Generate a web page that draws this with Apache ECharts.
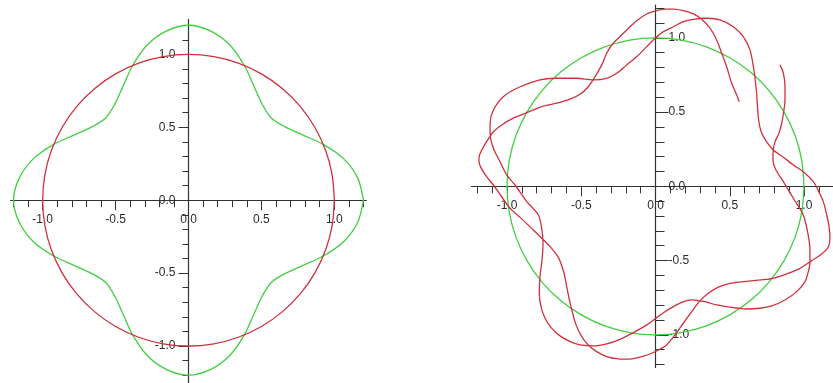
<!DOCTYPE html>
<html>
<head>
<meta charset="utf-8">
<script src="https://cdn.jsdelivr.net/npm/echarts@6/dist/echarts.min.js"></script>
<style>
  html, body { margin: 0; padding: 0; background: #ffffff; }
  #chart { width: 833px; height: 383px; }
</style>
</head>
<body>
<div id="chart"></div>
<script>
// Tick marks: small ones every 0.1, long labelled ones every 0.5
const minorTicks = [-1.2, -1.1, -1.0, -0.9, -0.8, -0.7, -0.6, -0.5, -0.4, -0.3, -0.2, -0.1, 0,
                    0.1, 0.2, 0.3, 0.4, 0.5, 0.6, 0.7, 0.8, 0.9, 1.0, 1.1, 1.2];
const majorTicks = [-1, -0.5, 0, 0.5, 1];
const tickLabels = ['-1.0', '-0.5', '0.0', '0.5', '1.0'];

// Unit circle (used in both plots)
const unitCircle = [
  [1, 0], [0.985, 0.174], [0.940, 0.342], [0.866, 0.5], [0.766, 0.643], [0.643, 0.766],
  [0.5, 0.866], [0.342, 0.940], [0.174, 0.985], [0, 1], [-0.174, 0.985], [-0.342, 0.940],
  [-0.5, 0.866], [-0.643, 0.766], [-0.766, 0.643], [-0.866, 0.5], [-0.940, 0.342], [-0.985, 0.174],
  [-1, 0], [-0.985, -0.174], [-0.940, -0.342], [-0.866, -0.5], [-0.766, -0.643], [-0.643, -0.766],
  [-0.5, -0.866], [-0.342, -0.940], [-0.174, -0.985], [0, -1], [0.174, -0.985], [0.342, -0.940],
  [0.5, -0.866], [0.643, -0.766], [0.766, -0.643], [0.866, -0.5], [0.940, -0.342], [0.985, -0.174],
  [1, 0]
];

// Left plot: four-lobed closed curve
const fourLobeCurve = [
  [1.200, 0.000], [1.160, 0.153], [1.063, 0.285], [0.924, 0.383], [0.779, 0.450], [0.659, 0.505],
  [0.566, 0.566], [0.505, 0.659], [0.450, 0.779], [0.383, 0.924], [0.285, 1.063], [0.153, 1.160],
  [0.000, 1.200], [-0.153, 1.160], [-0.285, 1.063], [-0.383, 0.924], [-0.450, 0.779], [-0.505, 0.659],
  [-0.566, 0.566], [-0.659, 0.505], [-0.779, 0.450], [-0.924, 0.383], [-1.063, 0.285], [-1.160, 0.153],
  [-1.200, 0.000], [-1.160, -0.153], [-1.063, -0.285], [-0.924, -0.383], [-0.779, -0.450], [-0.659, -0.505],
  [-0.566, -0.566], [-0.505, -0.659], [-0.450, -0.779], [-0.383, -0.924], [-0.285, -1.063], [-0.153, -1.160],
  [0.000, -1.200], [0.153, -1.160], [0.285, -1.063], [0.383, -0.924], [0.450, -0.779], [0.505, -0.659],
  [0.566, -0.566], [0.659, -0.505], [0.779, -0.450], [0.924, -0.383], [1.063, -0.285], [1.160, -0.153],
  [1.200, 0.000]
];

// Right plot: wavy curve, first lap (counter-clockwise from the upper right)
const wavyLapOne = [
  [0.564, 0.570], [0.547, 0.615], [0.513, 0.694], [0.479, 0.806], [0.446, 0.896], [0.412, 0.986],
  [0.367, 1.065], [0.311, 1.125], [0.255, 1.161], [0.187, 1.183], [0.120, 1.193], [0.064, 1.193],
  [0.008, 1.183], [-0.059, 1.161], [-0.127, 1.116], [-0.194, 1.053], [-0.251, 0.997], [-0.295, 0.952],
  [-0.329, 0.896], [-0.362, 0.818], [-0.407, 0.739], [-0.453, 0.671], [-0.508, 0.620], [-0.576, 0.587],
  [-0.665, 0.560], [-0.766, 0.537], [-0.867, 0.496], [-0.958, 0.459], [-1.036, 0.413], [-1.092, 0.368],
  [-1.121, 0.326], [-1.155, 0.272], [-1.185, 0.211], [-1.189, 0.171], [-1.178, 0.131], [-1.141, 0.070],
  [-1.092, 0.009], [-1.040, -0.065], [-0.980, -0.147], [-0.912, -0.209], [-0.845, -0.273], [-0.766, -0.349],
  [-0.710, -0.406], [-0.665, -0.462], [-0.643, -0.502], [-0.616, -0.585], [-0.598, -0.675], [-0.580, -0.765],
  [-0.564, -0.832], [-0.535, -0.933], [-0.497, -1.012], [-0.453, -1.068], [-0.396, -1.113], [-0.329, -1.147],
  [-0.251, -1.162], [-0.172, -1.164], [-0.093, -1.147], [-0.026, -1.124], [0.030, -1.097], [0.075, -1.068],
  [0.131, -1.001], [0.187, -0.922], [0.244, -0.844], [0.300, -0.770], [0.356, -0.720], [0.423, -0.679],
  [0.502, -0.653], [0.591, -0.642], [0.704, -0.630], [0.793, -0.619], [0.884, -0.590], [0.973, -0.552],
  [1.052, -0.500], [1.119, -0.455], [1.164, -0.408], [1.175, -0.347], [1.168, -0.267], [1.153, -0.193],
  [1.130, -0.103], [1.094, -0.024], [1.063, 0.032], [0.995, 0.099], [0.928, 0.144], [0.859, 0.198],
  [0.793, 0.245]
];

// Right plot: wavy curve, second lap
const wavyLapTwo = [
  [0.744, 0.306], [0.710, 0.373], [0.692, 0.469], [0.681, 0.627], [0.670, 0.728], [0.659, 0.806],
  [0.636, 0.919], [0.591, 1.008], [0.524, 1.075], [0.434, 1.121], [0.345, 1.132], [0.255, 1.125],
  [0.187, 1.109], [0.120, 1.075], [0.053, 1.042], [-0.003, 0.997], [-0.059, 0.941], [-0.127, 0.873],
  [-0.194, 0.818], [-0.261, 0.762], [-0.329, 0.728], [-0.419, 0.717], [-0.531, 0.728], [-0.677, 0.728],
  [-0.778, 0.717], [-0.912, 0.671], [-1.025, 0.604], [-1.092, 0.514], [-1.114, 0.425], [-1.114, 0.358],
  [-1.092, 0.257], [-1.047, 0.166], [-1.002, 0.077], [-0.946, 0.009], [-0.867, -0.103], [-0.789, -0.193],
  [-0.766, -0.287], [-0.758, -0.372], [-0.760, -0.442], [-0.766, -0.509], [-0.778, -0.608], [-0.783, -0.720],
  [-0.771, -0.810], [-0.744, -0.888], [-0.699, -0.956], [-0.643, -1.007], [-0.576, -1.046], [-0.508, -1.068],
  [-0.419, -1.075], [-0.329, -1.061], [-0.239, -1.030], [-0.149, -0.985], [-0.059, -0.933], [0.008, -0.884],
  [0.064, -0.844], [0.120, -0.810], [0.165, -0.787], [0.210, -0.770], [0.255, -0.765], [0.300, -0.772],
  [0.345, -0.780], [0.412, -0.799], [0.479, -0.810], [0.558, -0.821], [0.614, -0.826], [0.704, -0.821],
  [0.783, -0.805], [0.872, -0.765], [0.951, -0.709], [1.007, -0.642], [1.029, -0.574], [1.040, -0.518],
  [1.040, -0.428], [1.027, -0.321], [0.995, -0.193], [0.928, -0.080], [0.861, 0.032], [0.811, 0.110],
  [0.791, 0.178], [0.793, 0.245], [0.805, 0.301], [0.832, 0.360], [0.850, 0.425], [0.865, 0.514],
  [0.872, 0.582], [0.872, 0.671], [0.861, 0.762], [0.838, 0.818]
];

const RED = '#d0303c';
const GREEN = '#40cf40';
const AXIS = '#333333';
const FONT = 'Liberation Sans';

// Plot frames in px, and the value ranges they span
const leftFrame = { left: 10.6, top: 19.4, width: 355.8, height: 364.5, x: [-1.22, 1.22], y: [-1.26, 1.24] };
const rightFrame = { left: 471.4, top: 5.2, width: 362.3, height: 362.3, x: [-1.24, 1.2], y: [-1.22, 1.22] };

function labelFor(v) {
  const i = majorTicks.findIndex(t => Math.abs(t - v) < 1e-6);
  return i >= 0 ? tickLabels[i] : '';
}

function gridAt(f) {
  return { left: f.left, top: f.top, width: f.width, height: f.height,
           containLabel: false, outerBoundsMode: 'none' };
}

// Distance from a frame edge to the zero line, used to slide the labelled axes onto the origin
function zeroShift(f, dim, position) {
  if (dim === 'x') return -f.height * (0 - f.y[0]) / (f.y[1] - f.y[0]);
  if (position === 'left') return -f.width * (0 - f.x[0]) / (f.x[1] - f.x[0]);
  return -f.width * (f.x[1] - 0) / (f.x[1] - f.x[0]);
}

// Axis line with short ticks, crossing the other axis at zero
function lineAxis(gridIndex, f, dim, position, tickLen) {
  return {
    type: 'value', gridIndex: gridIndex, min: f[dim][0], max: f[dim][1], position: position,
    splitLine: { show: false }, axisPointer: { show: false },
    axisLine: { show: true, onZero: true, lineStyle: { color: AXIS, width: 1.2 } },
    axisTick: { show: true, customValues: minorTicks, length: tickLen, lineStyle: { color: AXIS, width: 1 } },
    axisLabel: { show: false }
  };
}

// Twin axis with long ticks and labels at every 0.5
function labelAxis(gridIndex, f, dim, position, tickLen, margin) {
  return {
    type: 'value', gridIndex: gridIndex, min: f[dim][0], max: f[dim][1], position: position,
    offset: zeroShift(f, dim, position),
    splitLine: { show: false }, axisPointer: { show: false },
    axisLine: { show: false, onZero: false },
    axisTick: { show: true, customValues: majorTicks, length: tickLen, lineStyle: { color: AXIS, width: 1 } },
    axisLabel: {
      show: true, customValues: majorTicks, margin: margin, formatter: labelFor,
      color: '#2b2b2b', fontFamily: FONT, fontSize: 12
    }
  };
}

function curve(axisIndex, data, color) {
  return { type: 'line', xAxisIndex: axisIndex, yAxisIndex: axisIndex, data: data, smooth: 0.3,
           showSymbol: false, silent: true, lineStyle: { color: color, width: 1.3 } };
}

const chart = echarts.init(document.getElementById('chart'), null, { renderer: 'canvas' });

chart.setOption({
  animation: false,
  backgroundColor: '#ffffff',
  // grids 0/1 share the left frame, grids 2/3 the right frame
  grid: [gridAt(leftFrame), gridAt(leftFrame), gridAt(rightFrame), gridAt(rightFrame)],
  xAxis: [
    lineAxis(0, leftFrame, 'x', 'bottom', 7),
    labelAxis(1, leftFrame, 'x', 'bottom', 10, 13),
    lineAxis(2, rightFrame, 'x', 'bottom', 7),
    labelAxis(3, rightFrame, 'x', 'bottom', 10, 13)
  ],
  yAxis: [
    lineAxis(0, leftFrame, 'y', 'left', 6),
    labelAxis(1, leftFrame, 'y', 'left', 10, 13),
    lineAxis(2, rightFrame, 'y', 'right', 9),
    labelAxis(3, rightFrame, 'y', 'right', 13, 13)
  ],
  series: [
    curve(0, fourLobeCurve, GREEN),
    curve(1, unitCircle, RED),
    curve(2, unitCircle, GREEN),
    curve(3, wavyLapOne.concat(wavyLapTwo), RED)
  ]
});
</script>
</body>
</html>
